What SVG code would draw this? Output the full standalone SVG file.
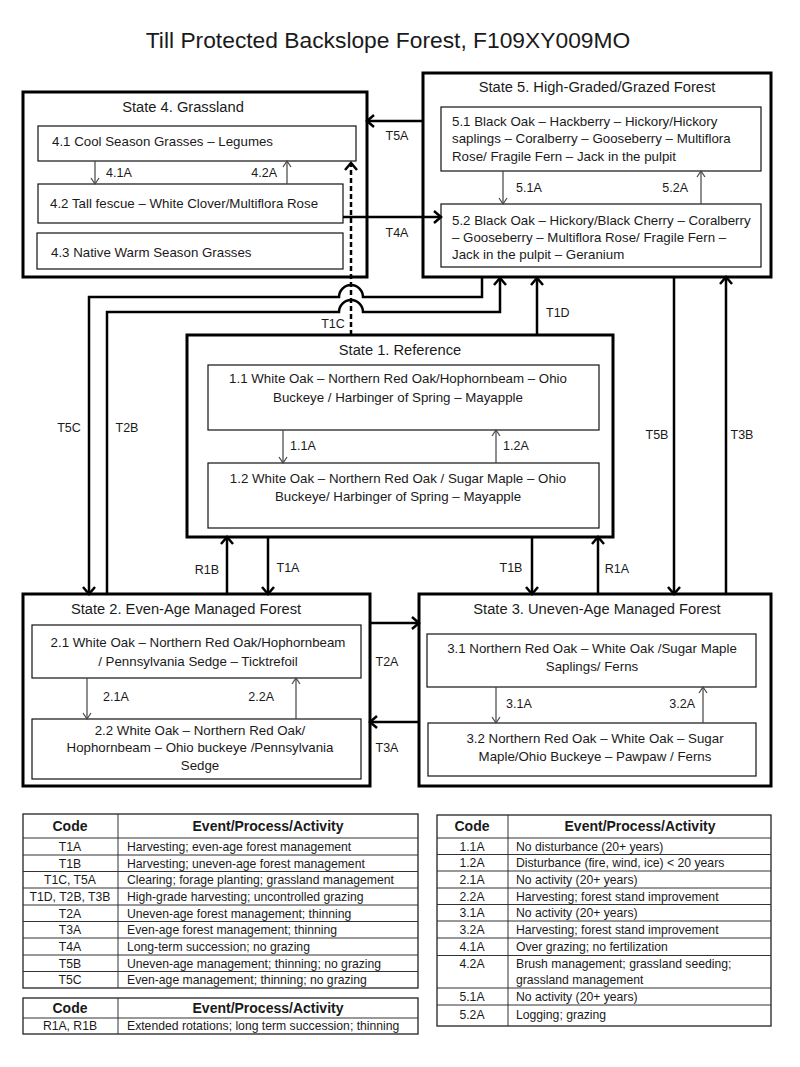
<svg xmlns="http://www.w3.org/2000/svg" width="800" height="1067" viewBox="0 0 800 1067">
<style>
text{font-family:"Liberation Sans",Arial,sans-serif;fill:#1a1a1a}
.ttl{font-size:22.8px}
.st{font-size:14.7px;text-anchor:middle}
.nt{font-size:13.3px}
.c{text-anchor:middle}
.e{text-anchor:end}
.lb{font-size:12.5px}
.tb{font-size:12.2px}
.th{font-size:14px;font-weight:bold;text-anchor:middle}
.sbox{fill:#fff;stroke:#000;stroke-width:3}
.ibox{fill:#fff;stroke:#111;stroke-width:1.2}
.iar{stroke:#444;stroke-width:1.2;fill:none;marker-end:url(#ah2)}
.con{stroke:#000;stroke-width:2.5;fill:none;marker-end:url(#ah)}
.tl{stroke:#333;stroke-width:1;fill:none}
.tbo{fill:#fff;stroke:#222;stroke-width:1.3}
</style>
<defs>
<marker id="ah" viewBox="-10 -7 12 14" refX="0" refY="0" markerWidth="12" markerHeight="14" markerUnits="userSpaceOnUse" orient="auto">
<path d="M-7,-6 L0,0 L-7,6" fill="none" stroke="#000" stroke-width="2.5"/>
</marker>
<marker id="ah2" viewBox="-8 -5 10 10" refX="0" refY="0" markerWidth="10" markerHeight="10" markerUnits="userSpaceOnUse" orient="auto">
<path d="M-6,-4 L0,0 L-6,4" fill="none" stroke="#444" stroke-width="1.2"/>
</marker>
</defs>
<rect width="800" height="1067" fill="#fff"/>
<text class="ttl c" x="388" y="48">Till Protected Backslope Forest, F109XY009MO</text>

<g id="state4">
<rect class="sbox" x="23" y="92" width="344" height="185"/>
<text class="st" x="183" y="112">State 4. Grassland</text>
<rect class="ibox" x="38" y="126" width="318" height="35"/>
<text class="nt" x="52" y="146">4.1 Cool Season Grasses – Legumes</text>
<rect class="ibox" x="38" y="184" width="305" height="39"/>
<text class="nt" x="50" y="208">4.2 Tall fescue – White Clover/Multiflora Rose</text>
<rect class="ibox" x="37" y="233" width="306" height="36"/>
<text class="nt" x="51" y="257">4.3 Native Warm Season Grasses</text>
<line class="iar" x1="95" y1="161" x2="95" y2="184"/>
<text class="lb" x="106" y="177">4.1A</text>
<line class="iar" x1="287" y1="184" x2="287" y2="161"/>
<text class="lb e" x="277" y="177">4.2A</text>
</g>

<g id="state5">
<rect class="sbox" x="423" y="73" width="348" height="204"/>
<text class="st" x="597" y="92">State 5. High-Graded/Grazed Forest</text>
<rect class="ibox" x="441" y="107" width="320" height="64"/>
<text class="nt" x="452" y="126">5.1 Black Oak – Hackberry – Hickory/Hickory</text>
<text class="nt" x="452" y="143">saplings – Coralberry – Gooseberry – Multiflora</text>
<text class="nt" x="452" y="161">Rose/ Fragile Fern – Jack in the pulpit</text>
<rect class="ibox" x="441" y="204" width="320" height="63"/>
<text class="nt" x="452" y="225">5.2 Black Oak – Hickory/Black Cherry – Coralberry</text>
<text class="nt" x="452" y="242">– Gooseberry – Multiflora Rose/ Fragile Fern –</text>
<text class="nt" x="452" y="259">Jack in the pulpit – Geranium</text>
<line class="iar" x1="503" y1="171" x2="503" y2="204"/>
<text class="lb" x="516" y="192">5.1A</text>
<line class="iar" x1="701" y1="204" x2="701" y2="171"/>
<text class="lb e" x="688" y="192">5.2A</text>
</g>

<g id="state1">
<rect class="sbox" x="187" y="335" width="426" height="202"/>
<text class="st" x="400" y="355">State 1. Reference</text>
<rect class="ibox" x="208" y="365" width="391" height="65"/>
<text class="nt c" x="398" y="383">1.1 White Oak – Northern Red Oak/Hophornbeam – Ohio</text>
<text class="nt c" x="398" y="402">Buckeye / Harbinger of Spring – Mayapple</text>
<rect class="ibox" x="208" y="463" width="391" height="65"/>
<text class="nt c" x="398" y="483">1.2 White Oak – Northern Red Oak / Sugar Maple – Ohio</text>
<text class="nt c" x="398" y="501">Buckeye/ Harbinger of Spring – Mayapple</text>
<line class="iar" x1="283" y1="430" x2="283" y2="463"/>
<text class="lb" x="290" y="450">1.1A</text>
<line class="iar" x1="496" y1="463" x2="496" y2="430"/>
<text class="lb" x="503" y="450">1.2A</text>
</g>

<g id="state2">
<rect class="sbox" x="23" y="594" width="347" height="192"/>
<text class="st" x="186" y="614">State 2. Even-Age Managed Forest</text>
<rect class="ibox" x="32" y="625" width="329" height="53"/>
<text class="nt c" x="198" y="647">2.1 White Oak – Northern Red Oak/Hophornbeam</text>
<text class="nt c" x="198" y="666">/ Pennsylvania Sedge – Ticktrefoil</text>
<rect class="ibox" x="32" y="719" width="329" height="60"/>
<text class="nt c" x="200" y="735">2.2 White Oak – Northern Red Oak/</text>
<text class="nt c" x="200" y="752">Hophornbeam – Ohio buckeye /Pennsylvania</text>
<text class="nt c" x="200" y="770">Sedge</text>
<line class="iar" x1="87" y1="678" x2="87" y2="719"/>
<text class="lb" x="103" y="701">2.1A</text>
<line class="iar" x1="296" y1="719" x2="296" y2="678"/>
<text class="lb e" x="274" y="701">2.2A</text>
</g>

<g id="state3">
<rect class="sbox" x="419" y="594" width="352" height="192"/>
<text class="st" x="597" y="614">State 3. Uneven-Age Managed Forest</text>
<rect class="ibox" x="427" y="634" width="329" height="53"/>
<text class="nt c" x="592" y="653">3.1 Northern Red Oak – White Oak /Sugar Maple</text>
<text class="nt c" x="592" y="671">Saplings/ Ferns</text>
<rect class="ibox" x="428" y="723" width="328" height="53"/>
<text class="nt c" x="595" y="743">3.2 Northern Red Oak – White Oak – Sugar</text>
<text class="nt c" x="595" y="761">Maple/Ohio Buckeye – Pawpaw / Ferns</text>
<line class="iar" x1="496" y1="687" x2="496" y2="723"/>
<text class="lb" x="506" y="708">3.1A</text>
<line class="iar" x1="703" y1="723" x2="703" y2="687"/>
<text class="lb e" x="695" y="708">3.2A</text>
</g>

<g id="connectors">
<line class="con" x1="423" y1="121" x2="367" y2="121"/>
<text class="lb c" x="397" y="140">T5A</text>
<line class="con" x1="343" y1="217" x2="441" y2="217"/>
<text class="lb c" x="397" y="237">T4A</text>
<path class="con" d="M482,278 L482,297 L363,297 A12,12 0 0 0 339,297 L89,297 L89,594"/>
<text class="lb c" x="69" y="432">T5C</text>
<path class="con" d="M107,594 L107,312 L339,312 A12,12 0 0 1 363,312 L500,312 L500,278"/>
<text class="lb c" x="127" y="432">T2B</text>
<line class="con" x1="351" y1="335" x2="351" y2="163" stroke-dasharray="5,3" stroke-width="2"/>
<text class="lb c" x="333" y="328">T1C</text>
<line class="con" x1="537" y1="335" x2="537" y2="278"/>
<text class="lb" x="546" y="317">T1D</text>
<line class="con" x1="674" y1="277" x2="674" y2="594"/>
<text class="lb c" x="657" y="439">T5B</text>
<line class="con" x1="726" y1="594" x2="726" y2="277"/>
<text class="lb c" x="742" y="439">T3B</text>
<line class="con" x1="227" y1="594" x2="227" y2="537"/>
<text class="lb c" x="207" y="574">R1B</text>
<line class="con" x1="268" y1="537" x2="268" y2="594"/>
<text class="lb c" x="288" y="572">T1A</text>
<line class="con" x1="532" y1="537" x2="532" y2="594"/>
<text class="lb c" x="511" y="572">T1B</text>
<line class="con" x1="598" y1="594" x2="598" y2="537"/>
<text class="lb c" x="617" y="573">R1A</text>
<line class="con" x1="370" y1="623" x2="419" y2="623"/>
<text class="lb c" x="387" y="666">T2A</text>
<line class="con" x1="419" y1="722" x2="370" y2="722"/>
<text class="lb c" x="387" y="752">T3A</text>
</g>

<g id="table-transitions">
<rect class="tbo" x="23" y="814" width="395" height="174"/>
<line class="tl" x1="118" y1="814" x2="118" y2="988"/>
<line class="tl" x1="23" y1="838" x2="418" y2="838"/>
<line class="tl" x1="23" y1="855" x2="418" y2="855"/>
<line class="tl" x1="23" y1="871.5" x2="418" y2="871.5"/>
<line class="tl" x1="23" y1="888" x2="418" y2="888"/>
<line class="tl" x1="23" y1="905" x2="418" y2="905"/>
<line class="tl" x1="23" y1="921.5" x2="418" y2="921.5"/>
<line class="tl" x1="23" y1="938" x2="418" y2="938"/>
<line class="tl" x1="23" y1="955" x2="418" y2="955"/>
<line class="tl" x1="23" y1="971.5" x2="418" y2="971.5"/>
<text class="th" x="70" y="831">Code</text>
<text class="th" x="268" y="831">Event/Process/Activity</text>
<text class="tb c" x="70" y="851">T1A</text><text class="tb" x="127" y="851">Harvesting; even-age forest management</text>
<text class="tb c" x="70" y="867.5">T1B</text><text class="tb" x="127" y="867.5">Harvesting; uneven-age forest management</text>
<text class="tb c" x="70" y="884">T1C, T5A</text><text class="tb" x="127" y="884">Clearing; forage planting; grassland management</text>
<text class="tb c" x="70" y="901">T1D, T2B, T3B</text><text class="tb" x="127" y="901">High-grade harvesting; uncontrolled grazing</text>
<text class="tb c" x="70" y="917.5">T2A</text><text class="tb" x="127" y="917.5">Uneven-age forest management; thinning</text>
<text class="tb c" x="70" y="934">T3A</text><text class="tb" x="127" y="934">Even-age forest management; thinning</text>
<text class="tb c" x="70" y="951">T4A</text><text class="tb" x="127" y="951">Long-term succession; no grazing</text>
<text class="tb c" x="70" y="967.5">T5B</text><text class="tb" x="127" y="967.5">Uneven-age management; thinning; no grazing</text>
<text class="tb c" x="70" y="984">T5C</text><text class="tb" x="127" y="984">Even-age management; thinning; no grazing</text>
</g>

<g id="table-restoration">
<rect class="tbo" x="23" y="998" width="395" height="36"/>
<line class="tl" x1="118" y1="998" x2="118" y2="1034"/>
<line class="tl" x1="23" y1="1018" x2="418" y2="1018"/>
<text class="th" x="70" y="1013">Code</text>
<text class="th" x="268" y="1013">Event/Process/Activity</text>
<text class="tb c" x="70" y="1030">R1A, R1B</text><text class="tb" x="127" y="1030">Extended rotations; long term succession; thinning</text>
</g>

<g id="table-community">
<rect class="tbo" x="437" y="815" width="334" height="211"/>
<line class="tl" x1="508" y1="815" x2="508" y2="1026"/>
<line class="tl" x1="437" y1="838" x2="771" y2="838"/>
<line class="tl" x1="437" y1="854.5" x2="771" y2="854.5"/>
<line class="tl" x1="437" y1="871" x2="771" y2="871"/>
<line class="tl" x1="437" y1="888" x2="771" y2="888"/>
<line class="tl" x1="437" y1="904.5" x2="771" y2="904.5"/>
<line class="tl" x1="437" y1="921" x2="771" y2="921"/>
<line class="tl" x1="437" y1="938" x2="771" y2="938"/>
<line class="tl" x1="437" y1="955.5" x2="771" y2="955.5"/>
<line class="tl" x1="437" y1="988" x2="771" y2="988"/>
<line class="tl" x1="437" y1="1005" x2="771" y2="1005"/>
<text class="th" x="472" y="831">Code</text>
<text class="th" x="640" y="831">Event/Process/Activity</text>
<text class="tb c" x="472" y="850.5">1.1A</text><text class="tb" x="516" y="850.5">No disturbance (20+ years)</text>
<text class="tb c" x="472" y="867">1.2A</text><text class="tb" x="516" y="867">Disturbance (fire, wind, ice) &lt; 20 years</text>
<text class="tb c" x="472" y="884">2.1A</text><text class="tb" x="516" y="884">No activity (20+ years)</text>
<text class="tb c" x="472" y="900.5">2.2A</text><text class="tb" x="516" y="900.5">Harvesting; forest stand improvement</text>
<text class="tb c" x="472" y="917">3.1A</text><text class="tb" x="516" y="917">No activity (20+ years)</text>
<text class="tb c" x="472" y="934">3.2A</text><text class="tb" x="516" y="934">Harvesting; forest stand improvement</text>
<text class="tb c" x="472" y="951">4.1A</text><text class="tb" x="516" y="951">Over grazing; no fertilization</text>
<text class="tb c" x="472" y="968">4.2A</text><text class="tb" x="516" y="968">Brush management; grassland seeding;</text>
<text class="tb" x="516" y="984">grassland management</text>
<text class="tb c" x="472" y="1001">5.1A</text><text class="tb" x="516" y="1001">No activity (20+ years)</text>
<text class="tb c" x="472" y="1019">5.2A</text><text class="tb" x="516" y="1019">Logging; grazing</text>
</g>
</svg>
